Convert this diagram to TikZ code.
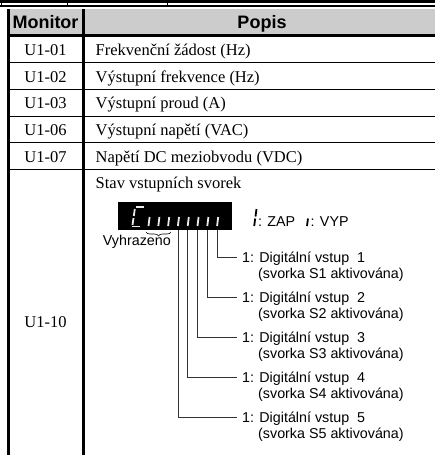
\documentclass[tikz,border=0pt]{standalone}
\usepackage{fontspec}
\setmainfont{Liberation Serif}
\setsansfont{Liberation Sans}
\usetikzlibrary{positioning,decorations.pathreplacing}

\definecolor{headgray}{gray}{0.8}
\tikzset{
  head/.style={font=\sffamily\bfseries\fontsize{18}{20}\selectfont, anchor=base, inner sep=0pt},
  cell/.style={font=\fontsize{16.5}{19}\selectfont, anchor=base, inner sep=0pt},
  lbl/.style={font=\sffamily\fontsize{14.3}{17}\selectfont, anchor=base west, inner sep=0pt},
  ledseg/.style={white!92!black, line width=1.8pt},
  legseg/.style={black, line width=1.8pt},
  conn/.style={draw=black!80, line width=0.8pt, shorten >=4pt}
}

\begin{document}
\begin{tikzpicture}[x=1pt,y=-1pt]
\useasboundingbox (0,0) rectangle (435,455);

% tail of the table above
\fill (0,0) rectangle (435,2.5);
\fill (0,5) rectangle (435,7.3);
\foreach \x in {1.5,67,167}
  \draw[line width=1pt] (\x,2.5) -- (\x,5);

% header and frame
\fill[headgray] (8,9) rectangle (441,34);
\fill (6.5,34) rectangle (441,37);
\draw[line width=3pt] (8,9) -- (8,455);
\draw[line width=2.5pt] (83.5,9) -- (83.5,455);
\node[head] (hmon) at (45.5,28) {Monitor};
\node[head] (hpop) at (262,28) {Popis};

% one-line rows
\foreach \code/\desc [count=\i] in {U1-01/Frekvenční žádost (Hz),U1-02/Výstupní frekvence (Hz),U1-03/Výstupní proud (A),U1-06/Výstupní napětí (VAC),U1-07/Napětí DC meziobvodu (VDC)}
{
  \pgfmathsetmacro\yb{55.6+26.67*(\i-1)}
  \pgfmathsetmacro\yl{62.7+26.67*(\i-1)}
  \node[cell] (m\i) at (45.5,\yb) {\code};
  \node[cell,anchor=base west] (d\i) at (95.5,\yb) {\desc};
  \draw[line width=1pt] (8,\yl) -- (441,\yl);
}

% U1-10 row
\node[cell] (m6) at (45.5,327) {U1-10};
\node[cell,anchor=base west] (d6) at (95.5,188.5) {Stav vstupních svorek};

% display
\node[fill=black, inner sep=0pt, minimum width=114pt, minimum height=28pt, anchor=north west] (disp) at (118,202) {};
\draw[ledseg] (135.5,207) -- (143.5,207);
\draw[ledseg] (134.8,209) -- (133.8,216);
\draw[ledseg] (133.5,218) -- (132.5,225);
\draw[ledseg] (132,226.5) -- (140,226.5);
\foreach \k in {0,...,7}{
  \pgfmathsetmacro\sx{148.5+9.8*\k}
  \draw[ledseg] (\sx+1.1,217) -- (\sx,226);
  \coordinate (s\k) at (\sx,230);
}

% legend
\draw[legseg] (256.5,209) -- (255.5,216.5);
\draw[legseg] (255.2,218.5) -- (254.2,226);
\node[lbl] (zap) at (258,226) {: ZAP};
\draw[legseg] (308,218.5) -- (307,226);
\node[lbl] (vyp) at (310.5,226) {: VYP};

% reserved bits
\draw[decorate, decoration={brace, amplitude=4pt}, line width=0.6pt] (171,232) -- (146,232);
\node[lbl, anchor=base east] (rez) at (171,245) {Vyhrazeno};

% input bits
\foreach \n/\k in {1/7,2/6,3/5,4/4,5/3}{
  \pgfmathsetmacro\yb{262+40*(\n-1)}
  \node[lbl] (l\n) at (242,\yb) {1: Digitální vstup\ \ \n};
  \node[lbl] (v\n) at (258,\yb+16) {(svorka S\n\ aktivována)};
  \draw[conn] (s\k) |- ([xshift=-1pt,yshift=5pt]l\n.base west);
}
\end{tikzpicture}
\end{document}
